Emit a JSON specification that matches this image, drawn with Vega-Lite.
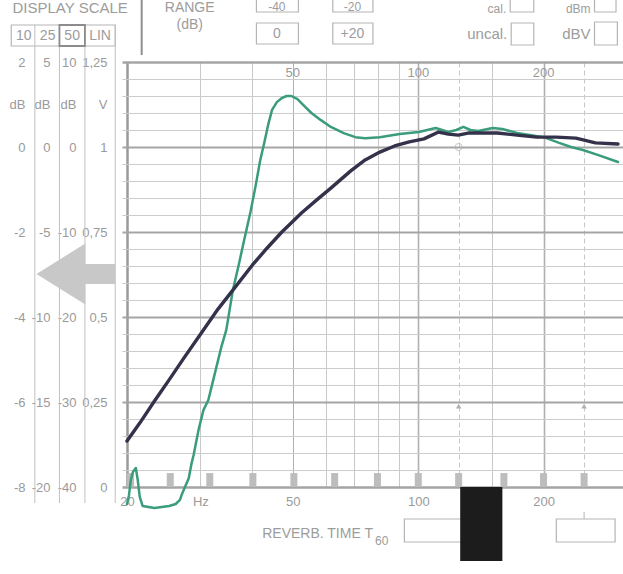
{
  "$schema": "https://vega.github.io/schema/vega-lite/v6.json",
  "width": 501,
  "height": 425,
  "autosize": "none",
  "padding": {"left": 122, "top": 62, "right": 0, "bottom": 87},
  "background": "white",
  "config": {
    "view": {"stroke": null},
    "font": "Liberation Sans",
    "axis": {"labelFont": "Liberation Sans", "labelColor": "#9a9a9a", "labelFontSize": 13, "titleFont": "Liberation Sans", "titleFontWeight": "normal", "titleColor": "#9a9a9a", "titleFontSize": 13, "ticks": false, "domain": false, "labelOverlap": false},
    "text": {"font": "Liberation Sans", "color": "#9c9c9c"}
  },
  "data": {"values": [{}]},
  "datasets": {
    "curves": [
      {"series": "A", "f": 20, "v": -0.05},
      {"series": "A", "f": 20.22, "v": -0.024},
      {"series": "A", "f": 20.43, "v": 0.021},
      {"series": "A", "f": 20.66, "v": 0.044},
      {"series": "A", "f": 21.0, "v": 0.056},
      {"series": "A", "f": 21.22, "v": 0.021},
      {"series": "A", "f": 21.46, "v": -0.029},
      {"series": "A", "f": 21.81, "v": -0.056},
      {"series": "A", "f": 23.28, "v": -0.062},
      {"series": "A", "f": 25.24, "v": -0.056},
      {"series": "A", "f": 26.18, "v": -0.05},
      {"series": "A", "f": 26.8, "v": -0.038},
      {"series": "A", "f": 27.09, "v": -0.021},
      {"series": "A", "f": 27.68, "v": 0.006},
      {"series": "A", "f": 28.13, "v": 0.026},
      {"series": "A", "f": 28.59, "v": 0.071},
      {"series": "A", "f": 28.9, "v": 0.094},
      {"series": "A", "f": 29.7, "v": 0.168},
      {"series": "A", "f": 30.51, "v": 0.226},
      {"series": "A", "f": 31.35, "v": 0.256},
      {"series": "A", "f": 32.51, "v": 0.335},
      {"series": "A", "f": 33.69, "v": 0.412},
      {"series": "A", "f": 34.62, "v": 0.462},
      {"series": "A", "f": 35.9, "v": 0.579},
      {"series": "A", "f": 37.08, "v": 0.653},
      {"series": "A", "f": 38.2, "v": 0.726},
      {"series": "A", "f": 39.57, "v": 0.809},
      {"series": "A", "f": 40.65, "v": 0.882},
      {"series": "A", "f": 41.77, "v": 0.962},
      {"series": "A", "f": 42.69, "v": 1.012},
      {"series": "A", "f": 43.62, "v": 1.065},
      {"series": "A", "f": 44.58, "v": 1.109},
      {"series": "A", "f": 45.78, "v": 1.132},
      {"series": "A", "f": 47.06, "v": 1.144},
      {"series": "A", "f": 48.28, "v": 1.15},
      {"series": "A", "f": 49.6, "v": 1.15},
      {"series": "A", "f": 51.3, "v": 1.141},
      {"series": "A", "f": 53.23, "v": 1.121},
      {"series": "A", "f": 55.41, "v": 1.1},
      {"series": "A", "f": 58.41, "v": 1.079},
      {"series": "A", "f": 61.69, "v": 1.059},
      {"series": "A", "f": 66.21, "v": 1.041},
      {"series": "A", "f": 70.66, "v": 1.029},
      {"series": "A", "f": 74.56, "v": 1.026},
      {"series": "A", "f": 80.87, "v": 1.029},
      {"series": "A", "f": 90.24, "v": 1.038},
      {"series": "A", "f": 100.3, "v": 1.044},
      {"series": "A", "f": 110.1, "v": 1.056},
      {"series": "A", "f": 118.1, "v": 1.044},
      {"series": "A", "f": 123.4, "v": 1.05},
      {"series": "A", "f": 128.3, "v": 1.059},
      {"series": "A", "f": 133.4, "v": 1.05},
      {"series": "A", "f": 139.2, "v": 1.047},
      {"series": "A", "f": 150.8, "v": 1.056},
      {"series": "A", "f": 159.2, "v": 1.053},
      {"series": "A", "f": 172.6, "v": 1.041},
      {"series": "A", "f": 200, "v": 1.029},
      {"series": "A", "f": 217.8, "v": 1.012},
      {"series": "A", "f": 232.6, "v": 1.0},
      {"series": "A", "f": 248.3, "v": 0.991},
      {"series": "A", "f": 270.6, "v": 0.976},
      {"series": "A", "f": 301.5, "v": 0.956},
      {"series": "B", "f": 20, "v": 0.135},
      {"series": "B", "f": 21.46, "v": 0.188},
      {"series": "B", "f": 23.28, "v": 0.253},
      {"series": "B", "f": 25.24, "v": 0.315},
      {"series": "B", "f": 27.38, "v": 0.379},
      {"series": "B", "f": 30.51, "v": 0.462},
      {"series": "B", "f": 33.1, "v": 0.524},
      {"series": "B", "f": 35.9, "v": 0.579},
      {"series": "B", "f": 40, "v": 0.653},
      {"series": "B", "f": 43.39, "v": 0.703},
      {"series": "B", "f": 47.06, "v": 0.75},
      {"series": "B", "f": 52.44, "v": 0.806},
      {"series": "B", "f": 56.88, "v": 0.843},
      {"series": "B", "f": 61.69, "v": 0.879},
      {"series": "B", "f": 68.74, "v": 0.929},
      {"series": "B", "f": 74.56, "v": 0.962},
      {"series": "B", "f": 80.87, "v": 0.985},
      {"series": "B", "f": 87.72, "v": 1.003},
      {"series": "B", "f": 95.14, "v": 1.015},
      {"series": "B", "f": 103.2, "v": 1.024},
      {"series": "B", "f": 111.9, "v": 1.044},
      {"series": "B", "f": 118.1, "v": 1.038},
      {"series": "B", "f": 124.7, "v": 1.035},
      {"series": "B", "f": 131.7, "v": 1.041},
      {"series": "B", "f": 142.8, "v": 1.041},
      {"series": "B", "f": 154.9, "v": 1.041},
      {"series": "B", "f": 172.6, "v": 1.035},
      {"series": "B", "f": 192.4, "v": 1.029},
      {"series": "B", "f": 214.4, "v": 1.029},
      {"series": "B", "f": 238.9, "v": 1.026},
      {"series": "B", "f": 266.2, "v": 1.012},
      {"series": "B", "f": 301.5, "v": 1.009}
    ],
    "thirds": [
      {"f": 20.4}, {"f": 25.4}, {"f": 31.6}, {"f": 40.1}, {"f": 50.3}, {"f": 63}, {"f": 79.8}, {"f": 100}, {"f": 125}, {"f": 160.5}, {"f": 199.8}, {"f": 250}
    ],
    "toplabels": [{"f": 50}, {"f": 100}, {"f": 200}],
    "markers": [{"f": 125}, {"f": 250}]
  },
  "resolve": {"scale": {"y": "independent"}, "axis": {"y": "independent"}},
  "layer": [
    {
      "resolve": {"axis": {"x": "independent", "y": "independent"}},
      "layer": [
        {
          "data": {"name": "thirds"},
          "mark": {"type": "bar", "size": 7, "color": "#bdbdbd"},
          "encoding": {
            "x": {"field": "f", "type": "quantitative",
              "scale": {"type": "log", "domain": [20, 301.5], "nice": false},
              "axis": {"orient": "bottom", "values": [20, 30, 40, 50, 60, 70, 80, 90, 100, 125, 150, 200, 250],
                "labelExpr": "datum.value == 20 ? '20' : datum.value == 30 ? 'Hz' : (datum.value == 50 || datum.value == 100 || datum.value == 200) ? toString(datum.value) : ''",
                "labelPadding": 8, "labelFlush": true, "grid": true, "title": null,
                "gridColor": {"condition": [{"test": "datum.value == 20", "value": "#9a9a9a"}, {"test": "datum.value == 100 || datum.value == 200 || datum.value == 50", "value": "#b0b0b0"}], "value": "#c8c8c8"},
                "gridWidth": {"condition": [{"test": "datum.value == 20", "value": 2.5}, {"test": "datum.value == 100 || datum.value == 200", "value": 1.6}], "value": 1},
                "gridDash": {"condition": {"test": "datum.value == 125 || datum.value == 250", "value": [5, 3]}, "value": []}
              }},
            "y": {"datum": 0, "type": "quantitative",
              "scale": {"domain": [0, 1.25], "nice": false, "zero": false},
              "axis": {"orient": "left", "values": [0, 0.05, 0.1, 0.15, 0.2, 0.25, 0.3, 0.35, 0.4, 0.45, 0.5, 0.55, 0.6, 0.65, 0.7, 0.75, 0.8, 0.85, 0.9, 0.95, 1, 1.05, 1.1, 1.15, 1.2, 1.25],
                "labelExpr": "abs(datum.value * 4 - round(datum.value * 4)) < 0.001 ? replace(toString(datum.value), '.', ',') : ''",
                "labelPadding": 15, "grid": true,
                "gridColor": {"condition": {"test": "abs(datum.value * 4 - round(datum.value * 4)) < 0.001", "value": "#a5a5a5"}, "value": "#cccccc"},
                "gridWidth": {"condition": [{"test": "datum.value == 0 || datum.value == 1.25", "value": 2.5}, {"test": "abs(datum.value * 4 - round(datum.value * 4)) < 0.001", "value": 2}], "value": 1},
                "title": "V", "titleAngle": 0, "titleAlign": "right", "titleBaseline": "middle", "titleX": -15, "titleY": 42
              }},
            "y2": {"datum": 0.041}
          }
        },
        {
          "data": {"name": "markers"},
          "mark": {"type": "point", "shape": "triangle-up", "filled": true, "color": "#b0b0b0", "size": 30, "opacity": 1},
          "encoding": {
            "x": {"field": "f", "type": "quantitative", "axis": null},
            "y": {"datum": 0.238, "type": "quantitative", "axis": null}
          }
        },
        {
          "mark": {"type": "point", "shape": "circle", "filled": false, "color": "#b0b0b0", "size": 50, "strokeWidth": 1},
          "encoding": {
            "x": {"datum": 125, "type": "quantitative", "axis": null},
            "y": {"datum": 1.0, "type": "quantitative", "axis": null}
          }
        },
        {
          "data": {"name": "toplabels"},
          "mark": {"type": "text", "fontSize": 13, "color": "#9a9a9a", "align": "center", "baseline": "middle"},
          "encoding": {
            "x": {"field": "f", "type": "quantitative", "axis": null},
            "y": {"datum": 1.219, "type": "quantitative", "axis": null},
            "text": {"field": "f", "type": "quantitative"}
          }
        },
        {
          "data": {"name": "curves"},
          "transform": [{"filter": "datum.series == 'A'"}],
          "mark": {"type": "line", "color": "#3a9c7c", "strokeWidth": 2.5, "strokeJoin": "round", "strokeCap": "round"},
          "encoding": {
            "x": {"field": "f", "type": "quantitative", "axis": null},
            "y": {"field": "v", "type": "quantitative", "axis": null}
          }
        },
        {
          "data": {"name": "curves"},
          "transform": [{"filter": "datum.series == 'B'"}],
          "mark": {"type": "line", "color": "#34324a", "strokeWidth": 3.4, "strokeJoin": "round", "strokeCap": "round"},
          "encoding": {
            "x": {"field": "f", "type": "quantitative", "axis": null},
            "y": {"field": "v", "type": "quantitative", "axis": null}
          }
        },
        {
          "mark": {"type": "text", "text": "DISPLAY SCALE", "fontSize": 15, "align": "center", "baseline": "middle"},
          "encoding": {"x": {"datum": 14.61, "type": "quantitative", "axis": null}, "y": {"datum": 1.4088, "type": "quantitative", "axis": null}}
        },
        {
          "mark": {"type": "rect", "fill": "white", "stroke": "#b5b5b5", "strokeWidth": 1.2},
          "encoding": {"x": {"datum": 10.55, "type": "quantitative", "axis": null}, "x2": {"datum": 18.74}, "y": {"datum": 1.3588, "type": "quantitative", "axis": null}, "y2": {"datum": 1.2971}}
        },
        {
          "mark": {"type": "rule", "color": "#c0c0c0", "strokeWidth": 1},
          "encoding": {"x": {"datum": 12.02, "type": "quantitative", "axis": null}, "y": {"datum": 1.3588, "type": "quantitative", "axis": null}, "y2": {"datum": -0.0471}}
        },
        {
          "mark": {"type": "rule", "color": "#c0c0c0", "strokeWidth": 1},
          "encoding": {"x": {"datum": 13.77, "type": "quantitative", "axis": null}, "y": {"datum": 1.3588, "type": "quantitative", "axis": null}, "y2": {"datum": -0.0471}}
        },
        {
          "mark": {"type": "rule", "color": "#c0c0c0", "strokeWidth": 1},
          "encoding": {"x": {"datum": 15.85, "type": "quantitative", "axis": null}, "y": {"datum": 1.3588, "type": "quantitative", "axis": null}, "y2": {"datum": -0.0471}}
        },
        {
          "mark": {"type": "rule", "color": "#c0c0c0", "strokeWidth": 1},
          "encoding": {"x": {"datum": 18.74, "type": "quantitative", "axis": null}, "y": {"datum": 1.3588, "type": "quantitative", "axis": null}, "y2": {"datum": -0.0471}}
        },
        {
          "mark": {"type": "rect", "fillOpacity": 0, "stroke": "#8c8c8c", "strokeWidth": 1.8},
          "encoding": {"x": {"datum": 13.77, "type": "quantitative", "axis": null}, "x2": {"datum": 15.85}, "y": {"datum": 1.3588, "type": "quantitative", "axis": null}, "y2": {"datum": 1.2971}}
        },
        {
          "mark": {"type": "text", "text": "10", "fontSize": 14, "align": "center", "baseline": "middle"},
          "encoding": {"x": {"datum": 11.3, "type": "quantitative", "axis": null}, "y": {"datum": 1.3265, "type": "quantitative", "axis": null}}
        },
        {
          "mark": {"type": "text", "text": "25", "fontSize": 14, "align": "center", "baseline": "middle"},
          "encoding": {"x": {"datum": 12.9, "type": "quantitative", "axis": null}, "y": {"datum": 1.3265, "type": "quantitative", "axis": null}}
        },
        {
          "mark": {"type": "text", "text": "50", "fontSize": 14, "align": "center", "baseline": "middle"},
          "encoding": {"x": {"datum": 14.77, "type": "quantitative", "axis": null}, "y": {"datum": 1.3265, "type": "quantitative", "axis": null}}
        },
        {
          "mark": {"type": "text", "text": "LIN", "fontSize": 14, "align": "center", "baseline": "middle"},
          "encoding": {"x": {"datum": 17.23, "type": "quantitative", "axis": null}, "y": {"datum": 1.3265, "type": "quantitative", "axis": null}}
        },
        {
          "mark": {"type": "rule", "color": "#8f8f8f", "strokeWidth": 2},
          "encoding": {"x": {"datum": 21.69, "type": "quantitative", "axis": null}, "y": {"datum": 1.4324, "type": "quantitative", "axis": null}, "y2": {"datum": 1.2706}}
        },
        {
          "mark": {"type": "text", "text": "RANGE", "fontSize": 14, "align": "center", "baseline": "middle"},
          "encoding": {"x": {"datum": 28.28, "type": "quantitative", "axis": null}, "y": {"datum": 1.4088, "type": "quantitative", "axis": null}}
        },
        {
          "mark": {"type": "text", "text": "(dB)", "fontSize": 14, "align": "center", "baseline": "middle"},
          "encoding": {"x": {"datum": 28.28, "type": "quantitative", "axis": null}, "y": {"datum": 1.3588, "type": "quantitative", "axis": null}}
        },
        {
          "mark": {"type": "rect", "fill": "white", "stroke": "#b5b5b5", "strokeWidth": 1.2},
          "encoding": {"x": {"datum": 40.89, "type": "quantitative", "axis": null}, "x2": {"datum": 51.57}, "y": {"datum": 1.4382, "type": "quantitative", "axis": null}, "y2": {"datum": 1.3971}}
        },
        {
          "mark": {"type": "rect", "fill": "white", "stroke": "#b5b5b5", "strokeWidth": 1.2},
          "encoding": {"x": {"datum": 40.89, "type": "quantitative", "axis": null}, "x2": {"datum": 51.57}, "y": {"datum": 1.3647, "type": "quantitative", "axis": null}, "y2": {"datum": 1.3029}}
        },
        {
          "mark": {"type": "rect", "fill": "white", "stroke": "#b5b5b5", "strokeWidth": 1.2},
          "encoding": {"x": {"datum": 62.35, "type": "quantitative", "axis": null}, "x2": {"datum": 77.85}, "y": {"datum": 1.4382, "type": "quantitative", "axis": null}, "y2": {"datum": 1.3971}}
        },
        {
          "mark": {"type": "rect", "fill": "white", "stroke": "#b5b5b5", "strokeWidth": 1.2},
          "encoding": {"x": {"datum": 62.35, "type": "quantitative", "axis": null}, "x2": {"datum": 77.85}, "y": {"datum": 1.3647, "type": "quantitative", "axis": null}, "y2": {"datum": 1.3029}}
        },
        {
          "mark": {"type": "text", "text": "-40", "fontSize": 12, "align": "center", "baseline": "middle"},
          "encoding": {"x": {"datum": 45.78, "type": "quantitative", "axis": null}, "y": {"datum": 1.412, "type": "quantitative", "axis": null}}
        },
        {
          "mark": {"type": "text", "text": "0", "fontSize": 14, "align": "center", "baseline": "middle"},
          "encoding": {"x": {"datum": 45.78, "type": "quantitative", "axis": null}, "y": {"datum": 1.3324, "type": "quantitative", "axis": null}}
        },
        {
          "mark": {"type": "text", "text": "-20", "fontSize": 12, "align": "center", "baseline": "middle"},
          "encoding": {"x": {"datum": 69.49, "type": "quantitative", "axis": null}, "y": {"datum": 1.412, "type": "quantitative", "axis": null}}
        },
        {
          "mark": {"type": "text", "text": "+20", "fontSize": 14, "align": "center", "baseline": "middle"},
          "encoding": {"x": {"datum": 69.49, "type": "quantitative", "axis": null}, "y": {"datum": 1.3324, "type": "quantitative", "axis": null}}
        },
        {
          "mark": {"type": "text", "text": "cal.", "fontSize": 12, "align": "right", "baseline": "middle"},
          "encoding": {"x": {"datum": 162.6, "type": "quantitative", "axis": null}, "y": {"datum": 1.407, "type": "quantitative", "axis": null}}
        },
        {
          "mark": {"type": "rect", "fill": "white", "stroke": "#b5b5b5", "strokeWidth": 1.2},
          "encoding": {"x": {"datum": 166.2, "type": "quantitative", "axis": null}, "x2": {"datum": 189.3}, "y": {"datum": 1.4382, "type": "quantitative", "axis": null}, "y2": {"datum": 1.3971}}
        },
        {
          "mark": {"type": "text", "text": "dBm", "fontSize": 12, "align": "right", "baseline": "middle"},
          "encoding": {"x": {"datum": 259.1, "type": "quantitative", "axis": null}, "y": {"datum": 1.407, "type": "quantitative", "axis": null}}
        },
        {
          "mark": {"type": "rect", "fill": "white", "stroke": "#b5b5b5", "strokeWidth": 1.2},
          "encoding": {"x": {"datum": 264.8, "type": "quantitative", "axis": null}, "x2": {"datum": 298.2}, "y": {"datum": 1.4382, "type": "quantitative", "axis": null}, "y2": {"datum": 1.3971}}
        },
        {
          "mark": {"type": "text", "text": "uncal.", "fontSize": 15, "align": "right", "baseline": "middle"},
          "encoding": {"x": {"datum": 163.5, "type": "quantitative", "axis": null}, "y": {"datum": 1.3324, "type": "quantitative", "axis": null}}
        },
        {
          "mark": {"type": "rect", "fill": "white", "stroke": "#b5b5b5", "strokeWidth": 1.2},
          "encoding": {"x": {"datum": 167.1, "type": "quantitative", "axis": null}, "x2": {"datum": 189.3}, "y": {"datum": 1.3647, "type": "quantitative", "axis": null}, "y2": {"datum": 1.3}}
        },
        {
          "mark": {"type": "text", "text": "dBV", "fontSize": 15, "align": "right", "baseline": "middle"},
          "encoding": {"x": {"datum": 259.1, "type": "quantitative", "axis": null}, "y": {"datum": 1.3324, "type": "quantitative", "axis": null}}
        },
        {
          "mark": {"type": "rect", "fill": "white", "stroke": "#b5b5b5", "strokeWidth": 1.2},
          "encoding": {"x": {"datum": 264.8, "type": "quantitative", "axis": null}, "x2": {"datum": 300.5}, "y": {"datum": 1.3676, "type": "quantitative", "axis": null}, "y2": {"datum": 1.3}}
        },
        {
          "mark": {"type": "text", "text": "REVERB. TIME T", "fontSize": 14, "align": "right", "baseline": "middle"},
          "encoding": {"x": {"datum": 77.85, "type": "quantitative", "axis": null}, "y": {"datum": -0.1382, "type": "quantitative", "axis": null}}
        },
        {
          "mark": {"type": "text", "text": "60", "fontSize": 12, "align": "left", "baseline": "middle"},
          "encoding": {"x": {"datum": 78.72, "type": "quantitative", "axis": null}, "y": {"datum": -0.1588, "type": "quantitative", "axis": null}}
        },
        {
          "mark": {"type": "rect", "fill": "white", "stroke": "#b5b5b5", "strokeWidth": 1.2},
          "encoding": {"x": {"datum": 92.6, "type": "quantitative", "axis": null}, "x2": {"datum": 156.6}, "y": {"datum": -0.0941, "type": "quantitative", "axis": null}, "y2": {"datum": -0.1618}}
        },
        {
          "mark": {"type": "rect", "color": "#1c1c1c"},
          "encoding": {"x": {"datum": 126.07, "type": "quantitative", "axis": null}, "x2": {"datum": 159.16}, "y": {"datum": 0, "type": "quantitative", "axis": null}, "y2": {"datum": -0.2176}}
        },
        {
          "mark": {"type": "rect", "fill": "white", "stroke": "#b5b5b5", "strokeWidth": 1.2},
          "encoding": {"x": {"datum": 214.4, "type": "quantitative", "axis": null}, "x2": {"datum": 296.7}, "y": {"datum": -0.0941, "type": "quantitative", "axis": null}, "y2": {"datum": -0.1618}}
        },
        {
          "mark": {"type": "rule", "color": "#b5b5b5", "strokeWidth": 1},
          "encoding": {"x": {"datum": 250, "type": "quantitative", "axis": null}, "y": {"datum": -0.0735, "type": "quantitative", "axis": null}, "y2": {"datum": -0.0941}}
        },
        {
          "mark": {"type": "rect", "color": "#c8c8c8"},
          "encoding": {"x": {"datum": 15.76, "type": "quantitative", "axis": null}, "x2": {"datum": 18.74}, "y": {"datum": 0.6559, "type": "quantitative", "axis": null}, "y2": {"datum": 0.5971}}
        },
        {
          "mark": {"type": "point", "shape": "M-0.8,0L0.8,-1L0.8,1Z", "filled": true, "color": "#c8c8c8", "opacity": 1, "size": 3721, "strokeWidth": 0},
          "encoding": {"x": {"datum": 13.88, "type": "quantitative", "axis": null}, "y": {"datum": 0.6265, "type": "quantitative", "axis": null}}
        }
      ]
    },
    {
      "mark": {"type": "point", "opacity": 0},
      "encoding": {
        "y": {"datum": 0, "type": "quantitative", "scale": {"domain": [-8, 2], "nice": false, "zero": false},
          "axis": {"orient": "left", "offset": 94, "values": [2, 0, -2, -4, -6, -8], "labelExpr": "'' + datum.value", "labelPadding": 3, "grid": false,
            "title": "dB", "titleAngle": 0, "titleAlign": "right", "titleBaseline": "middle", "titleX": -3, "titleY": 42}}
      }
    },
    {
      "mark": {"type": "point", "opacity": 0},
      "encoding": {
        "y": {"datum": 0, "type": "quantitative", "scale": {"domain": [-20, 5], "nice": false, "zero": false},
          "axis": {"orient": "left", "offset": 69, "values": [5, 0, -5, -10, -15, -20], "labelExpr": "'' + datum.value", "labelPadding": 3, "grid": false,
            "title": "dB", "titleAngle": 0, "titleAlign": "right", "titleBaseline": "middle", "titleX": -3, "titleY": 42}}
      }
    },
    {
      "mark": {"type": "point", "opacity": 0},
      "encoding": {
        "y": {"datum": 0, "type": "quantitative", "scale": {"domain": [-40, 10], "nice": false, "zero": false},
          "axis": {"orient": "left", "offset": 43, "values": [10, 0, -10, -20, -30, -40], "labelExpr": "'' + datum.value", "labelPadding": 3, "grid": false,
            "title": "dB", "titleAngle": 0, "titleAlign": "right", "titleBaseline": "middle", "titleX": -3, "titleY": 42}}
      }
    }
  ]
}
